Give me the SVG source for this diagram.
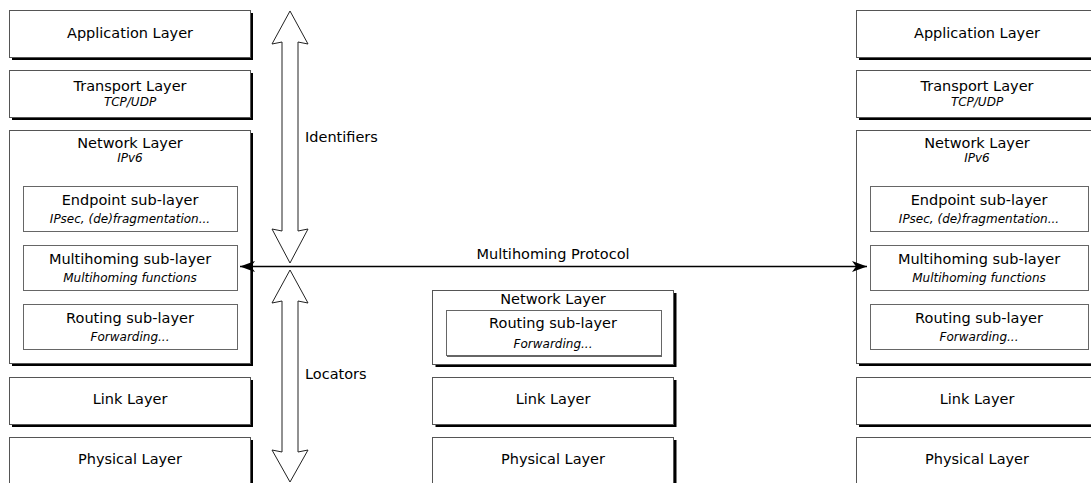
<svg xmlns="http://www.w3.org/2000/svg" width="1091" height="483" viewBox="0 0 1091 483">
<defs>
<style>
text{font-family:"DejaVu Sans",Verdana,sans-serif;fill:#000;text-anchor:middle}
.t{font-size:14.5px}
.s{font-size:12px;font-style:italic}
.l{text-anchor:start}
.sh{fill:#000}
.box{fill:#fff;stroke:#555;stroke-width:1}
.ish{fill:#666}
.ibox{fill:#fff;stroke:#666;stroke-width:1}
.blk{fill:#fff;stroke:#222;stroke-width:1}
.conn{stroke:#000;stroke-width:1.3;fill:none}
</style>
<marker id="ah" markerWidth="16" markerHeight="12" refX="15" refY="6" orient="auto-start-reverse" markerUnits="userSpaceOnUse">
<path d="M0,0.5 L15,6 L0,11.5 L4,6 Z" fill="#000"/>
</marker>
</defs>

<!-- Left host -->
<g id="left-app"><rect class="sh" x="12" y="13" width="241" height="47"/><rect class="box" x="9.5" y="10.5" width="241" height="47"/><text class="t" x="130" y="38">Application Layer</text></g>
<g id="left-transport"><rect class="sh" x="12" y="73" width="241" height="47"/><rect class="box" x="9.5" y="70.5" width="241" height="47"/><text class="t" x="130" y="91">Transport Layer</text><text class="s" x="130" y="106">TCP/UDP</text></g>
<g id="left-network"><rect class="sh" x="12" y="133" width="241" height="233"/><rect class="box" x="9.5" y="130.5" width="241" height="233"/><text class="t" x="130" y="148">Network Layer</text><text class="s" x="130" y="162">IPv6</text></g>
<g id="left-endpoint"><rect class="ish" x="24" y="187" width="214" height="45"/><rect class="ibox" x="23.5" y="186.5" width="214" height="45"/><text class="t" x="130" y="205">Endpoint sub-layer</text><text class="s" x="130" y="223">IPsec, (de)fragmentation...</text></g>
<g id="left-multihoming"><rect class="ish" x="24" y="246" width="214" height="45"/><rect class="ibox" x="23.5" y="245.5" width="214" height="45"/><text class="t" x="130" y="264">Multihoming sub-layer</text><text class="s" x="130" y="282">Multihoming functions</text></g>
<g id="left-routing"><rect class="ish" x="24" y="305" width="214" height="45"/><rect class="ibox" x="23.5" y="304.5" width="214" height="45"/><text class="t" x="130" y="323">Routing sub-layer</text><text class="s" x="130" y="341">Forwarding...</text></g>
<g id="left-link"><rect class="sh" x="12" y="380" width="241" height="47"/><rect class="box" x="9.5" y="377.5" width="241" height="47"/><text class="t" x="130" y="404">Link Layer</text></g>
<g id="left-physical"><rect class="sh" x="12" y="440" width="241" height="60"/><rect class="box" x="9.5" y="437.5" width="241" height="60"/><text class="t" x="130" y="464">Physical Layer</text></g>

<!-- Middle router -->
<g id="mid-network"><rect class="sh" x="435.5" y="293" width="241" height="74"/><rect class="box" x="432.5" y="290.5" width="241" height="74"/><text class="t" x="553" y="304">Network Layer</text></g>
<g id="mid-routing"><rect class="ish" x="447" y="312" width="215" height="45"/><rect class="ibox" x="446.5" y="310.5" width="215" height="45"/><text class="t" x="553" y="328">Routing sub-layer</text><text class="s" x="553" y="348">Forwarding...</text></g>
<g id="mid-link"><rect class="sh" x="435.5" y="380" width="241" height="47"/><rect class="box" x="432.5" y="377.5" width="241" height="47"/><text class="t" x="553" y="404">Link Layer</text></g>
<g id="mid-physical"><rect class="sh" x="435.5" y="440" width="241" height="60"/><rect class="box" x="432.5" y="437.5" width="241" height="60"/><text class="t" x="553" y="464">Physical Layer</text></g>

<!-- Right host -->
<g id="right-app"><rect class="sh" x="859" y="13" width="241" height="47"/><rect class="box" x="856.5" y="10.5" width="241" height="47"/><text class="t" x="977" y="38">Application Layer</text></g>
<g id="right-transport"><rect class="sh" x="859" y="73" width="241" height="47"/><rect class="box" x="856.5" y="70.5" width="241" height="47"/><text class="t" x="977" y="91">Transport Layer</text><text class="s" x="977" y="106">TCP/UDP</text></g>
<g id="right-network"><rect class="sh" x="859" y="133" width="241" height="233"/><rect class="box" x="856.5" y="130.5" width="241" height="233"/><text class="t" x="977" y="148">Network Layer</text><text class="s" x="977" y="162">IPv6</text></g>
<g id="right-endpoint"><rect class="ish" x="871" y="187" width="218" height="45"/><rect class="ibox" x="870.5" y="186.5" width="218" height="45"/><text class="t" x="979" y="205">Endpoint sub-layer</text><text class="s" x="979" y="223">IPsec, (de)fragmentation...</text></g>
<g id="right-multihoming"><rect class="ish" x="871" y="246" width="218" height="45"/><rect class="ibox" x="870.5" y="245.5" width="218" height="45"/><text class="t" x="979" y="264">Multihoming sub-layer</text><text class="s" x="979" y="282">Multihoming functions</text></g>
<g id="right-routing"><rect class="ish" x="871" y="305" width="218" height="45"/><rect class="ibox" x="870.5" y="304.5" width="218" height="45"/><text class="t" x="979" y="323">Routing sub-layer</text><text class="s" x="979" y="341">Forwarding...</text></g>
<g id="right-link"><rect class="sh" x="859" y="380" width="241" height="47"/><rect class="box" x="856.5" y="377.5" width="241" height="47"/><text class="t" x="977" y="404">Link Layer</text></g>
<g id="right-physical"><rect class="sh" x="859" y="440" width="241" height="60"/><rect class="box" x="856.5" y="437.5" width="241" height="60"/><text class="t" x="977" y="464">Physical Layer</text></g>

<!-- Connectors -->
<g id="connectors">
<polygon id="identifiers-arrow" class="blk" points="290,11 308,44 298,42 298,231 308,229 290,263 272,229 282,231 282,42 272,44"/>
<text class="t l" x="305" y="142">Identifiers</text>
<polygon id="locators-arrow" class="blk" points="290,270 308,303 298,301 298,452 308,450 290,482 272,450 282,452 282,301 272,303"/>
<text class="t l" x="305" y="379">Locators</text>
<line class="conn" x1="240" y1="266.5" x2="867" y2="266.5" marker-start="url(#ah)" marker-end="url(#ah)"/>
<text class="t" x="553" y="259">Multihoming Protocol</text>
</g>
</svg>
